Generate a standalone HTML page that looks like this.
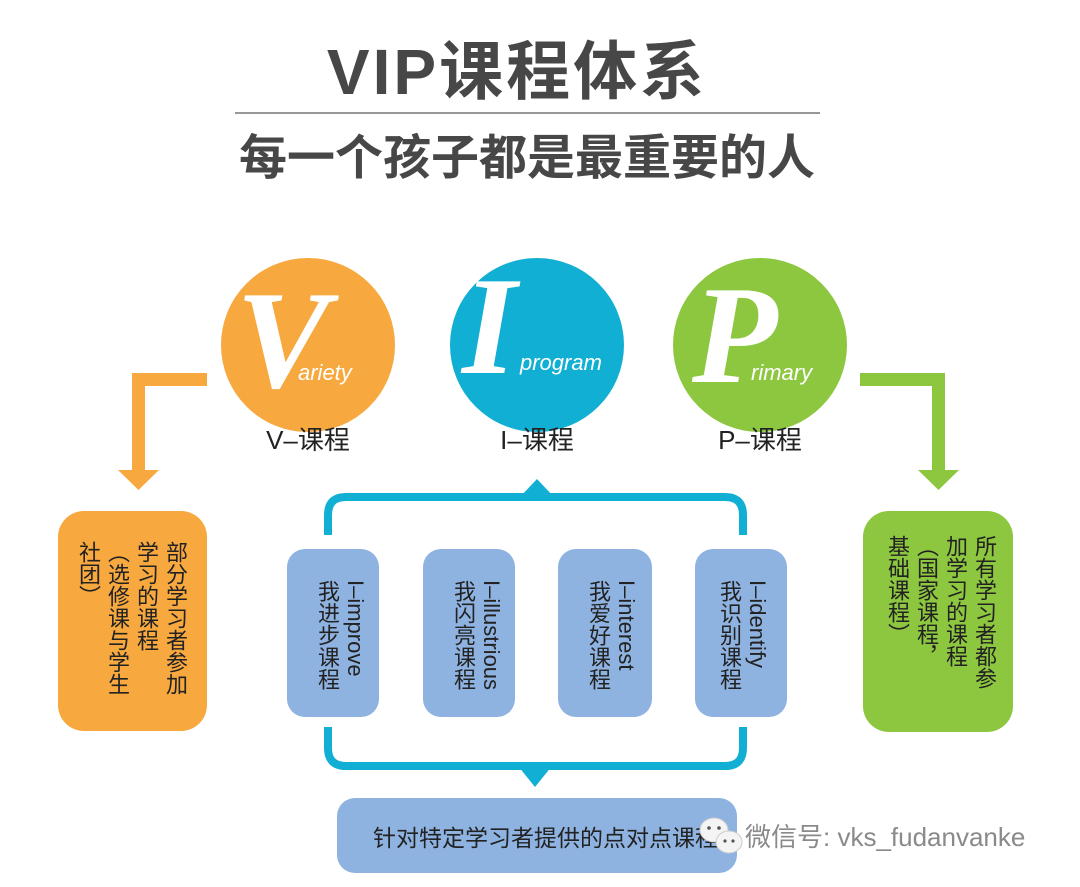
<!DOCTYPE html>
<html><head><meta charset="utf-8"><style>
body{margin:0;width:1080px;height:887px;background:#fff;position:relative;overflow:hidden;font-family:"Liberation Sans","Noto Sans CJK SC",sans-serif;}
.abs{position:absolute;}
.v{position:absolute;writing-mode:vertical-rl;font-size:22px;line-height:29px;color:#222;font-family:"Liberation Sans","Noto Sans CJK SC",sans-serif;white-space:nowrap;}
</style></head><body>
<svg class="abs" style="left:0;top:0" width="1080" height="887">
<text x="517" y="94" text-anchor="middle" font-size="64" font-weight="bold" fill="#474747" font-family="Liberation Sans, Noto Sans CJK SC, sans-serif" letter-spacing="3">VIP课程体系</text>
<line x1="235" y1="113" x2="820" y2="113" stroke="#777" stroke-width="1.5"/>
<text x="527" y="174" text-anchor="middle" font-size="48" font-weight="bold" fill="#474747" font-family="Liberation Sans, Noto Sans CJK SC, sans-serif">每一个孩子都是最重要的人</text>

<circle cx="308" cy="345" r="87" fill="#f7a83e"/>
<circle cx="537" cy="345" r="87" fill="#12afd4"/>
<circle cx="760" cy="345" r="87" fill="#8dc63f"/>
<g fill="#fff" font-family="Liberation Serif, serif" font-weight="bold" font-style="italic" font-size="140">
<text x="236" y="387">V</text>
<text x="462" y="373">I</text>
<text x="692" y="382">P</text>
</g>
<g fill="#fff" font-family="Liberation Sans, sans-serif" font-style="italic" font-size="22">
<text x="298" y="380">ariety</text>
<text x="520" y="370">program</text>
<text x="751" y="380">rimary</text>
</g>
<g font-size="26" fill="#222" text-anchor="middle" font-family="Liberation Sans, Noto Sans CJK SC, sans-serif">
<text x="308" y="449">V–课程</text>
<text x="537" y="449">I–课程</text>
<text x="760" y="449">P–课程</text>
</g>

<path d="M207 379.5 H138.5 V472" fill="none" stroke="#f7a83e" stroke-width="13"/>
<polygon points="118,470 159,470 138.5,490" fill="#f7a83e"/>
<path d="M860 379.5 H938.5 V472" fill="none" stroke="#8dc63f" stroke-width="13"/>
<polygon points="918,470 959,470 938.5,490" fill="#8dc63f"/>

<rect x="58" y="511" width="149" height="220" rx="26" fill="#f7a83e"/>
<rect x="863" y="511" width="150" height="221" rx="26" fill="#8dc63f"/>

<path d="M328 535 V515 Q328 497 346 497 H725 Q743 497 743 515 V535" fill="none" stroke="#12afd4" stroke-width="8"/>
<polygon points="520,497 537,479 554,497" fill="#12afd4"/>
<path d="M328 727 V748 Q328 766 346 766 H725 Q743 766 743 748 V727" fill="none" stroke="#12afd4" stroke-width="8"/>
<polygon points="518,766 552,766 535,787" fill="#12afd4"/>

<g fill="#8fb3e1">
<rect x="287" y="549" width="92" height="168" rx="18"/>
<rect x="423" y="549" width="92" height="168" rx="18"/>
<rect x="558" y="549" width="94" height="168" rx="18"/>
<rect x="695" y="549" width="92" height="168" rx="18"/>
<rect x="337" y="798" width="400" height="75" rx="18"/>
</g>
<text x="373" y="846" font-size="23" fill="#222" font-family="Liberation Sans, Noto Sans CJK SC, sans-serif">针对特定学习者提供的点对点课程</text>
<ellipse cx="714" cy="830" rx="14" ry="12" fill="#f4f4f4" stroke="#ccc"/>
<ellipse cx="729" cy="842" rx="13" ry="11" fill="#f4f4f4" stroke="#ccc"/>
<circle cx="709" cy="828" r="1.8" fill="#555"/><circle cx="719" cy="828" r="1.8" fill="#555"/>
<circle cx="725" cy="841" r="1.6" fill="#555"/><circle cx="733" cy="841" r="1.6" fill="#555"/>
<text x="745" y="846" font-size="26" fill="#8a8a8a" font-family="Liberation Sans, Noto Sans CJK SC, sans-serif">微信号: vks_fudanvanke</text>
</svg>

<div class="v" style="left:74px;top:541px;">部分学习者参加<br>学习的课程<br>（选修课与学生<br>社团）</div>
<div class="v" style="left:883px;top:535px;">所有学习者都参<br>加学习的课程<br>（国家课程，<br>基础课程）</div>

<div class="v" style="left:313px;top:580px;line-height:28px;">I–improve<br>我进步课程</div>
<div class="v" style="left:449px;top:580px;line-height:28px;">I–illustrious<br>我闪亮课程</div>
<div class="v" style="left:584px;top:580px;line-height:28px;">I–interest<br>我爱好课程</div>
<div class="v" style="left:715px;top:580px;line-height:28px;">I–identify<br>我识别课程</div>
</body></html>
